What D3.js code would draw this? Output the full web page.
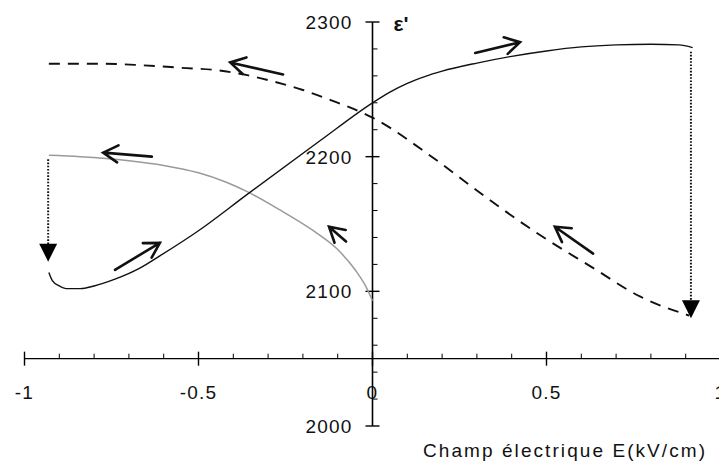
<!DOCTYPE html>
<html>
<head>
<meta charset="utf-8">
<script src="https://cdn.jsdelivr.net/npm/d3@7"></script>
<style>
  html, body { margin: 0; padding: 0; background: #fff; }
  svg { display: block; }
  text { font-family: "Liberation Sans", Arial, sans-serif; fill: #111; }
</style>
</head>
<body>
<svg id="chart" width="719" height="463"></svg>
<script>
// ---- data ----
// solid black branch (increasing field)
const solidE   = [-0.93, -0.92, -0.90, -0.88, -0.84, -0.80, -0.74, -0.67, -0.61, -0.50, -0.36, -0.15, 0.00, 0.05, 0.10, 0.15, 0.20, 0.30, 0.40, 0.50, 0.60, 0.70, 0.80, 0.88, 0.92];
const solidEps = [2114, 2108, 2104, 2102, 2102, 2104, 2109, 2117, 2126.5, 2145, 2172, 2212, 2240, 2248, 2254.5, 2259.5, 2263.5, 2269.5, 2274.5, 2278.5, 2281.5, 2283, 2283.5, 2283, 2281];
// dashed branch (decreasing field)
const dashE    = [-0.93, -0.78, -0.67, -0.55, -0.44, -0.36, -0.28, -0.20, -0.12, 0.00, 0.17, 0.32, 0.48, 0.63, 0.77, 0.91];
const dashEps  = [2269, 2269, 2268, 2266, 2264, 2260.5, 2255.5, 2249.5, 2242, 2229, 2200, 2171, 2142, 2118, 2096, 2082];
// grey branch
const greyE    = [-0.93, -0.84, -0.70, -0.60, -0.50, -0.42, -0.36, -0.27, -0.17, -0.10, -0.05, -0.02, 0.00];
const greyEps  = [2201, 2200, 2197, 2193.5, 2188, 2181, 2174, 2161, 2145, 2131, 2116, 2104, 2093];
// dotted jumps: [E, eps from, eps to]
const jumps = [[0.915, 2278, 2080], [-0.932, 2198, 2122]];
// direction arrows: [E tail, eps tail, E tip, eps tip]
const arrows = [
  [0.295, 2277, 0.424, 2285],
  [-0.257, 2261, -0.409, 2270],
  [-0.634, 2200, -0.774, 2203],
  [-0.740, 2116, -0.611, 2136],
  [-0.076, 2137, -0.125, 2148],
  [0.634, 2128, 0.524, 2148]
];
const xMajor = [-1, -0.5, 0, 0.5, 1];
const xLabels = ["-1", "-0.5", "0", "0.5", "1"];
const yMajor = [2000, 2100, 2200, 2300];
const yLabels = ["2000", "2100", "2200", "2300"];
const xAxisAt = 2050;
const yLabel = "ε'";
const xTitle = "Champ électrique E(kV/cm)";

// ---- drawing ----
const svg = d3.select("#chart");
svg.append("rect").attr("width", 719).attr("height", 463).attr("fill", "#fff");

const x = d3.scaleLinear().domain([-1, 1]).range([24.5, 720.5]);
const y = d3.scaleLinear().domain([2000, 2300]).range([426, 22]);
const x0 = x(0), yAx = y(xAxisAt);

// X axis
const xMinor = d3.range(-10, 11).map(i => i / 10).filter(v => !xMajor.some(m => Math.abs(m - v) < 1e-9));
const gx = svg.append("g").attr("transform", `translate(0,${yAx})`);
gx.append("line").attr("x1", x(-1)).attr("x2", 719).attr("stroke", "#000").attr("stroke-width", 1.4);
gx.selectAll(".mn").data(xMinor).join("line")
  .attr("x1", d => x(d)).attr("x2", d => x(d)).attr("y1", -5).attr("y2", 0)
  .attr("stroke", "#000").attr("stroke-width", 1);
gx.selectAll(".mj").data(xMajor).join("line")
  .attr("x1", d => x(d)).attr("x2", d => x(d)).attr("y1", -7).attr("y2", 7)
  .attr("stroke", "#000").attr("stroke-width", 1.4);
gx.selectAll("text").data(xMajor).join("text")
  .attr("x", d => x(d)).attr("y", 40).attr("text-anchor", "middle")
  .attr("font-size", 19).attr("letter-spacing", 1.2)
  .text((d, i) => xLabels[i]);

// Y axis
const yMinor = d3.range(2000, 2301, 20).filter(v => v % 100 !== 0);
const gy = svg.append("g").attr("transform", `translate(${x0},0)`);
gy.append("line").attr("y1", y(2300)).attr("y2", y(2000)).attr("stroke", "#000").attr("stroke-width", 1.6);
gy.selectAll(".mn").data(yMinor).join("line")
  .attr("y1", d => y(d)).attr("y2", d => y(d)).attr("x1", 0).attr("x2", 5)
  .attr("stroke", "#000").attr("stroke-width", 1);
gy.selectAll(".mj").data(yMajor).join("line")
  .attr("y1", d => y(d)).attr("y2", d => y(d)).attr("x1", -7).attr("x2", 7)
  .attr("stroke", "#000").attr("stroke-width", 1.4);
gy.selectAll("text").data(yMajor).join("text")
  .attr("x", -20).attr("y", d => y(d) + 7).attr("text-anchor", "end")
  .attr("font-size", 19).attr("letter-spacing", 1.2)
  .text((d, i) => yLabels[i]);

svg.append("text").attr("x", x0 + 21).attr("y", 31)
  .attr("font-size", 21).attr("font-weight", "bold").text(yLabel);
svg.append("text").attr("x", 423).attr("y", 457)
  .attr("font-size", 19).attr("textLength", 282).attr("lengthAdjust", "spacing")
  .text(xTitle);

// curves
const line = d3.line().x(d => x(d[0])).y(d => y(d[1])).curve(d3.curveMonotoneX);
svg.append("path").datum(greyE.map((e, i) => [e, greyEps[i]]))
  .attr("d", line).attr("fill", "none").attr("stroke", "#9a9a9a").attr("stroke-width", 1.5);
svg.append("path").datum(dashE.map((e, i) => [e, dashEps[i]]))
  .attr("d", line).attr("fill", "none").attr("stroke", "#111").attr("stroke-width", 1.9)
  .attr("stroke-dasharray", "11 8");
svg.append("path").datum(solidE.map((e, i) => [e, solidEps[i]]))
  .attr("d", line).attr("fill", "none").attr("stroke", "#111").attr("stroke-width", 1.4);

// dotted jumps with filled triangle heads
jumps.forEach(([e, a, b]) => {
  const px = x(e), tip = y(b);
  svg.append("line").attr("x1", px).attr("x2", px).attr("y1", y(a)).attr("y2", tip - 16)
    .attr("stroke", "#111").attr("stroke-width", 2).attr("stroke-dasharray", "1.6 1.6");
  svg.append("path")
    .attr("d", `M${px - 9},${tip - 18} L${px + 9},${tip - 18} L${px},${tip} Z`)
    .attr("fill", "#000");
});

// direction arrows
arrows.forEach(([e1, v1, e2, v2]) => {
  const ax = x(e1), ay = y(v1), bx = x(e2), by = y(v2);
  const ang = Math.atan2(ay - by, ax - bx);
  const L = 17, w = Math.PI / 6;
  const p1 = [bx + L * Math.cos(ang + w), by + L * Math.sin(ang + w)];
  const p2 = [bx + L * Math.cos(ang - w), by + L * Math.sin(ang - w)];
  svg.append("path")
    .attr("d", `M${ax},${ay} L${bx},${by} M${p1[0]},${p1[1]} L${bx},${by} L${p2[0]},${p2[1]}`)
    .attr("fill", "none").attr("stroke", "#111").attr("stroke-width", 2.6)
    .attr("stroke-linecap", "round").attr("stroke-linejoin", "miter");
});
</script>
</body>
</html>
